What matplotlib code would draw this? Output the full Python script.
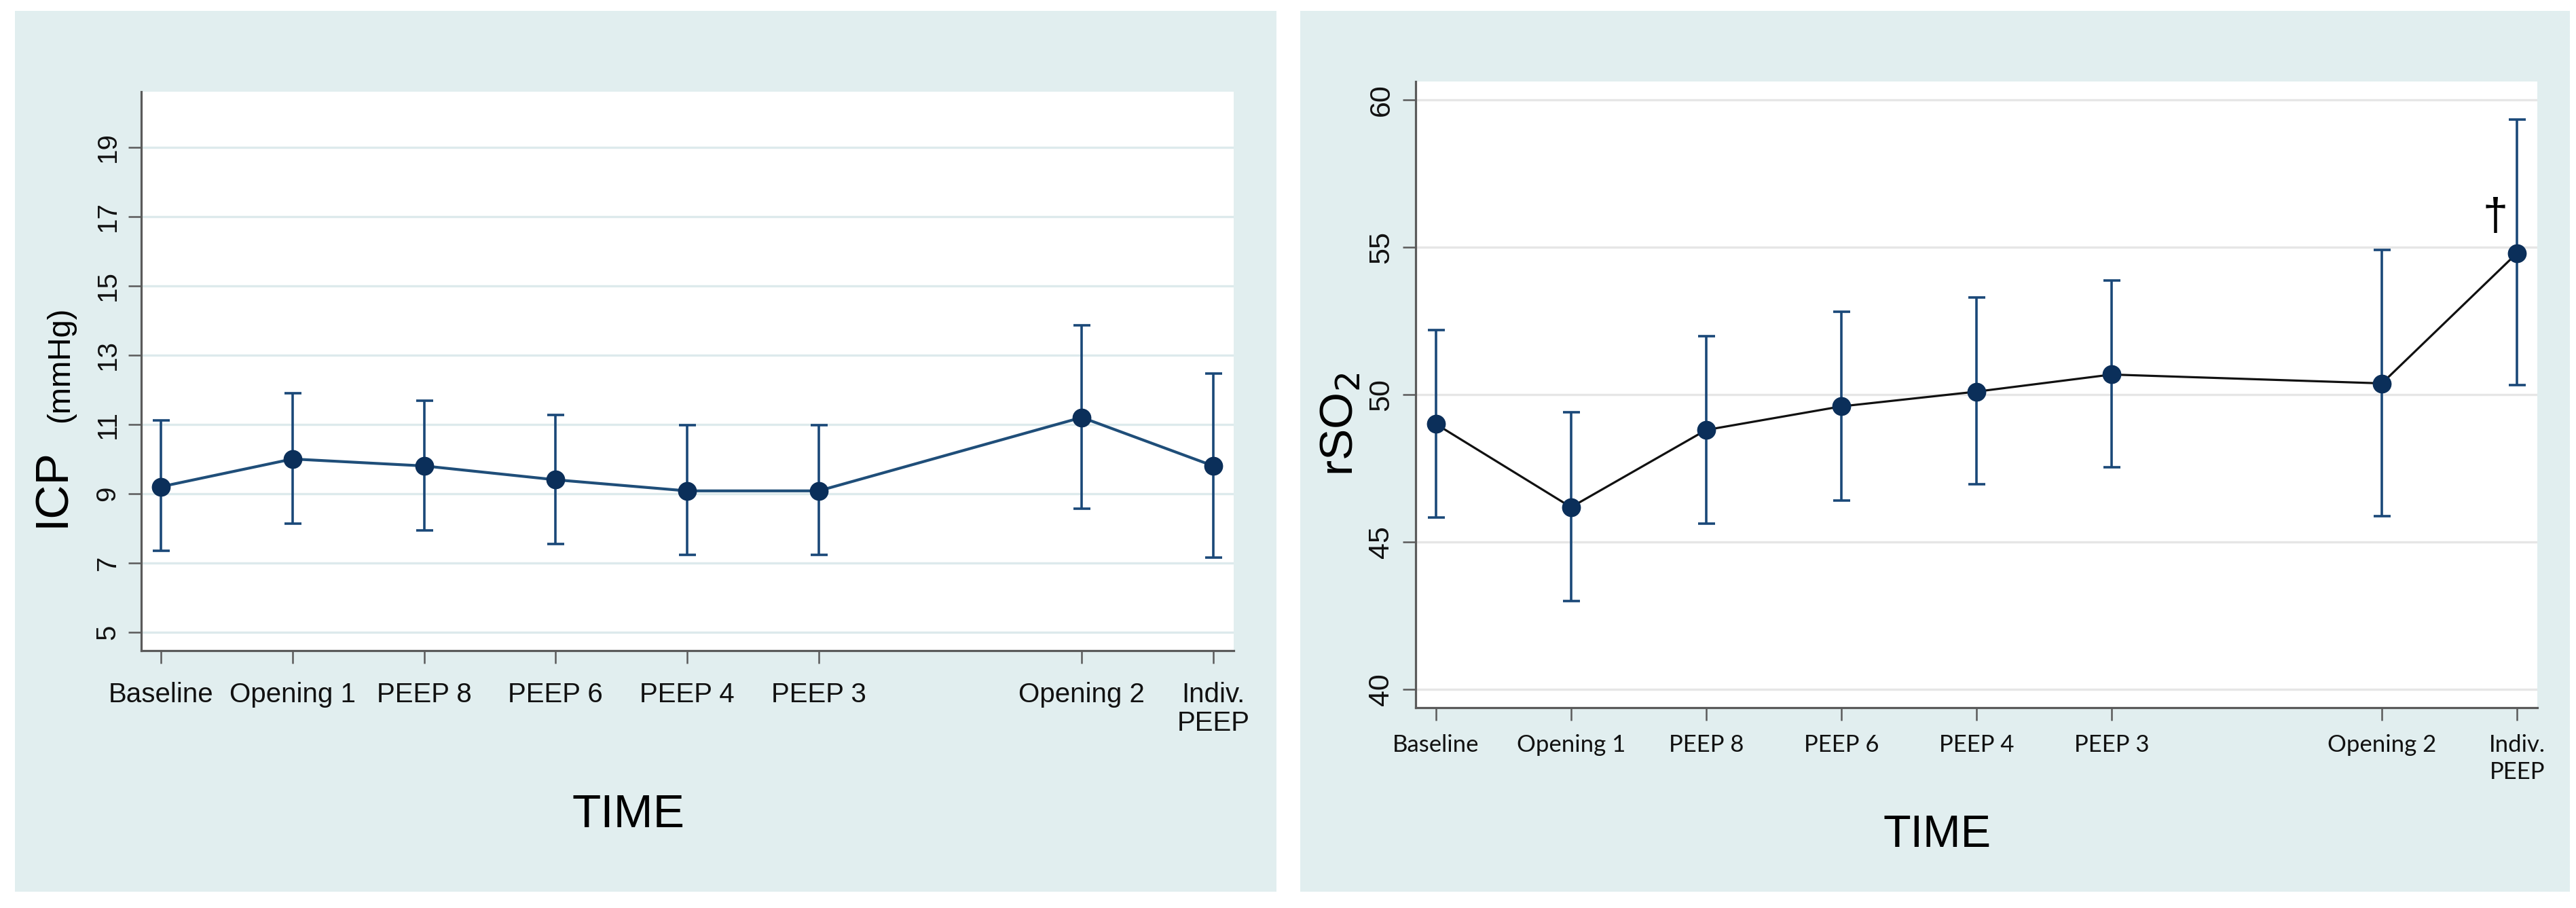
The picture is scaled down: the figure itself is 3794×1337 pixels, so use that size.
import matplotlib
matplotlib.use("Agg")
import matplotlib.pyplot as plt
from matplotlib.patches import Rectangle

# ---------------- data ----------------
time_labels = ["Baseline", "Opening 1", "PEEP 8", "PEEP 6", "PEEP 4", "PEEP 3", "Opening 2", "Indiv.\nPEEP"]
time_pos = [0, 1, 2, 3, 4, 5, 7, 8]

icp_mean = [9.2, 10.0, 9.8, 9.4, 9.08, 9.08, 11.2, 9.8]
icp_low = [7.35, 8.13, 7.93, 7.54, 7.24, 7.24, 8.56, 7.16]
icp_high = [11.12, 11.9, 11.68, 11.28, 10.98, 10.98, 13.85, 12.47]
icp_ticks = [5, 7, 9, 11, 13, 15, 17, 19]

rso2_mean = [49.0, 46.18, 48.8, 49.6, 50.1, 50.68, 50.38, 54.8]
rso2_low = [45.84, 43.0, 45.63, 46.41, 46.96, 47.53, 45.88, 50.33]
rso2_high = [52.2, 49.39, 51.98, 52.8, 53.3, 53.88, 54.9, 59.33]
rso2_ticks = [40, 45, 50, 55, 60]

# ---------------- style ----------------
W, H = 3794, 1337
DPI = 100
BG = "#e1eeef"
NAVY = "#1a4878"
MARK = "#0b2f5a"
AXC = "#5a5a5a"
ARIAL = ["Liberation Sans", "DejaVu Sans"]
CALI = ["Lato", "Liberation Sans", "DejaVu Sans"]

fig = plt.figure(figsize=(W / DPI, H / DPI), dpi=DPI, facecolor="white")


def px_rect(x0, y0, x1, y1):
    return [x0 / W, 1 - y1 / H, (x1 - x0) / W, (y1 - y0) / H]


# panel backgrounds
for (x0, y0, x1, y1) in [(22, 16, 1880, 1313), (1915, 16, 3785, 1313)]:
    r = px_rect(x0, y0, x1, y1)
    fig.add_artist(Rectangle((r[0], r[1]), r[2], r[3], transform=fig.transFigure,
                             facecolor=BG, edgecolor="none", zorder=0))


def style_axes(ax, grid_color):
    ax.set_facecolor("white")
    for s in ["top", "right"]:
        ax.spines[s].set_visible(False)
    for s in ["left", "bottom"]:
        ax.spines[s].set_color(AXC)
        ax.spines[s].set_linewidth(2.3)
    ax.grid(axis="y", color=grid_color, linewidth=2.4, zorder=0)
    ax.set_axisbelow(True)
    ax.tick_params(axis="both", length=14, width=1.8, color=AXC)


def draw(ax, mean, low, high, line_color, line_w):
    yerr = [[m - l for m, l in zip(mean, low)], [h - m for m, h in zip(mean, high)]]
    ax.errorbar(time_pos, mean, yerr=yerr, fmt="none", ecolor=NAVY, elinewidth=2.6,
                capsize=9, capthick=2.6, zorder=2)
    ax.plot(time_pos, mean, color=line_color, linewidth=line_w, zorder=3)
    ax.plot(time_pos, mean, linestyle="none", marker="o", markersize=19,
            markerfacecolor=MARK, markeredgecolor=MARK, zorder=4)


# ---------------- left panel: ICP ----------------
ax1 = fig.add_axes(px_rect(208, 135, 1817, 958))
style_axes(ax1, "#ddeaec")
draw(ax1, icp_mean, icp_low, icp_high, "#1f4e79", 3.0)
ax1.set_xlim(-0.15, 8.155)
ax1.set_ylim(4.47, 20.6)
ax1.set_yticks(icp_ticks)
ax1.set_yticklabels([str(t) for t in icp_ticks], rotation=90, va="center",
                    fontsize=29, family=ARIAL, color="#111111")
ax1.tick_params(axis="y", pad=8)
ax1.set_xticks(time_pos)
ax1.set_xticklabels(time_labels, fontsize=29, family=ARIAL, color="#111111",
                    linespacing=1.15)
ax1.tick_params(axis="x", pad=19)

fig.text(77 / W, 1 - 718 / H, "ICP", rotation=90, ha="center", va="center",
         fontsize=50, family=ARIAL, color="black")
fig.text(89 / W, 1 - 537 / H, "(mmHg)", rotation=90, ha="center", va="center",
         fontsize=34, family=ARIAL, color="black")
fig.text(926 / W, 1 - 1200 / H, "TIME", ha="center", va="center",
         fontsize=50, family=ARIAL, color="black")

# ---------------- right panel: rSO2 ----------------
ax2 = fig.add_axes(px_rect(2085, 120, 3737, 1042))
style_axes(ax2, "#e6e6e6")
draw(ax2, rso2_mean, rso2_low, rso2_high, "#111111", 2.3)
ax2.set_xlim(-0.15, 8.15)
ax2.set_ylim(39.38, 60.62)
ax2.set_yticks(rso2_ticks)
ax2.set_yticklabels([str(t) for t in rso2_ticks], rotation=90, va="center",
                    fontsize=31, family=ARIAL, color="#111111")
ax2.tick_params(axis="y", pad=8)
ax2.set_xticks(time_pos)
ax2.set_xticklabels(time_labels, fontsize=25, family=CALI, color="#111111",
                    linespacing=1.3)
ax2.tick_params(axis="x", pad=14)

ax2.text(7.84, 56.0, "\u2020", ha="center", va="center", fontsize=48,
         family=ARIAL, color="black")

fig.text(1975 / W, 1 - 625 / H, r"rSO$_2$", rotation=90, ha="center", va="center",
         fontsize=50, family=ARIAL, color="black")
fig.text(2853 / W, 1 - 1230 / H, "TIME", ha="center", va="center",
         fontsize=48, family=ARIAL, color="black")

fig.savefig("out.png", dpi=DPI, facecolor="white")
